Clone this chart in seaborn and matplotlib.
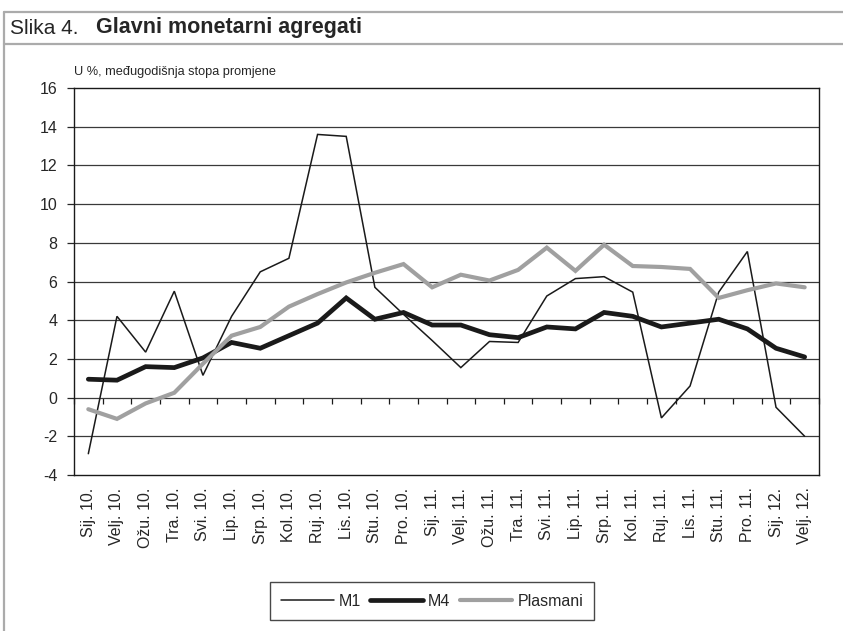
import numpy as np
import pandas as pd
import matplotlib
matplotlib.use("Agg")
import matplotlib.pyplot as plt
from matplotlib.lines import Line2D
import seaborn as sns

# Podaci (međugodišnja stopa promjene, %)
months = ["Sij. 10.", "Velj. 10.", "Ožu. 10.", "Tra. 10.", "Svi. 10.", "Lip. 10.",
          "Srp. 10.", "Kol. 10.", "Ruj. 10.", "Lis. 10.", "Stu. 10.", "Pro. 10.",
          "Sij. 11.", "Velj. 11.", "Ožu. 11.", "Tra. 11.", "Svi. 11.", "Lip. 11.",
          "Srp. 11.", "Kol. 11.", "Ruj. 11.", "Lis. 11.", "Stu. 11.", "Pro. 11.",
          "Sij. 12.", "Velj. 12."]
m1 = [-2.9, 4.2, 2.35, 5.5, 1.15, 4.2, 6.5, 7.2, 13.6, 13.5, 5.7, 4.3,
      2.95, 1.55, 2.9, 2.85, 5.25, 6.15, 6.25, 5.45, -1.05, 0.6, 5.45, 7.55,
      -0.5, -2.0]
m4 = [0.95, 0.9, 1.6, 1.55, 2.05, 2.85, 2.55, 3.2, 3.85, 5.15, 4.05, 4.4,
      3.75, 3.75, 3.25, 3.1, 3.65, 3.55, 4.4, 4.2, 3.65, 3.85, 4.05, 3.55,
      2.55, 2.1]
plasmani = [-0.6, -1.1, -0.3, 0.25, 1.75, 3.2, 3.65, 4.7, 5.35, 5.95, 6.45, 6.9,
            5.7, 6.35, 6.05, 6.6, 7.75, 6.55, 7.9, 6.8, 6.75, 6.65, 5.15, 5.55,
            5.9, 5.7]

series_names = ["M1", "M4", "Plasmani"]
series_colors = ["#1a1a1a", "#1a1a1a", "#a0a0a0"]
series_widths = [1.1, 3.4, 3.0]

x = np.arange(len(months))
df = pd.DataFrame({"x": x, "M1": m1, "M4": m4, "Plasmani": plasmani})

sns.set_style("white")
plt.rcParams["font.family"] = ["Liberation Sans", "DejaVu Sans"]
plt.rcParams["axes.unicode_minus"] = False

fig = plt.figure(figsize=(8.43, 6.31), dpi=100)
ax = fig.add_axes([74 / 843, 1 - 475 / 631, (819 - 74) / 843, (475 - 88) / 631])

# mreža
for yv in range(-2, 16, 2):
    ax.axhline(yv, color="#3a3a3a", lw=0.9, zorder=1)

handles = []
for name, col, lw in zip(series_names, series_colors, series_widths):
    sns.lineplot(data=df, x="x", y=name, ax=ax, color=col, lw=lw, zorder=3,
                 solid_joinstyle="miter")
    handles.append(Line2D([0], [0], color=col, lw=lw))

ax.set_xlim(-0.5, len(months) - 0.5)
ax.set_ylim(-4, 16)
ax.set_yticks(range(-4, 17, 2))
ax.set_xticks(x)
ax.set_xticklabels(months, rotation=90, fontsize=11.5)
ax.tick_params(axis="x", length=0, pad=9)
ax.tick_params(axis="y", direction="out", length=5, width=0.9, pad=7,
               labelsize=11.5, left=True)
ax.set_xlabel("")
ax.set_ylabel("")
for sp in ax.spines.values():
    sp.set_color("#1a1a1a")
    sp.set_linewidth(1.0)

# oznake kategorija na nultoj liniji
sec = ax.secondary_xaxis(4 / 20)
sec.set_xticks(np.arange(-0.5, len(months), 1.0))
sec.set_xticklabels([])
sec.tick_params(direction="out", length=4, width=0.9, color="#1a1a1a")
sec.spines["bottom"].set_visible(False)

ax.legend(handles, series_names, loc="center",
          bbox_to_anchor=((267 + 597) / 2 / 843, 1 - 601 / 631),
          bbox_transform=fig.transFigure, ncol=3, frameon=True,
          fancybox=False, edgecolor="#1a1a1a", handlelength=3.3,
          handletextpad=0.3, columnspacing=0.6, borderpad=0.7,
          prop={"size": 11.5})
ax.get_legend().get_frame().set_linewidth(1.0)

# okvir slike
frame_col = "#ababab"
fig.add_artist(Line2D([4 / 843, 1], [1 - 12 / 631] * 2, color=frame_col, lw=1.6,
                      transform=fig.transFigure))
fig.add_artist(Line2D([4 / 843, 1], [1 - 44 / 631] * 2, color=frame_col, lw=1.6,
                      transform=fig.transFigure))
fig.add_artist(Line2D([4 / 843] * 2, [0, 1 - 12 / 631], color=frame_col, lw=1.6,
                      transform=fig.transFigure))

fig.text(10 / 843, 1 - 28 / 631, "Slika 4.", fontsize=15, va="center", ha="left")
fig.text(96 / 843, 1 - 28 / 631, "Glavni monetarni agregati", fontsize=15.5,
         fontweight="bold", va="center", ha="left")
fig.text(74 / 843, 1 - 72 / 631, "U %, međugodišnja stopa promjene",
         fontsize=9.2, va="center", ha="left")

fig.savefig("out.png", dpi=100)
